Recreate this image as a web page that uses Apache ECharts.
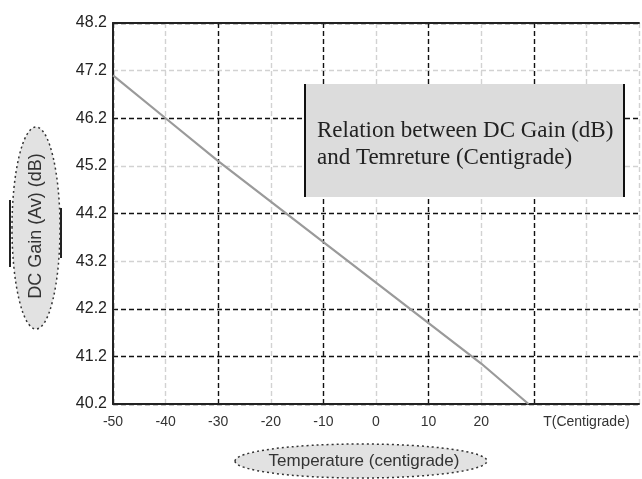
<!DOCTYPE html>
<html>
<head>
<meta charset="utf-8">
<script src="https://cdn.jsdelivr.net/npm/echarts@6/dist/echarts.min.js"></script>
<style>
html,body{margin:0;padding:0;background:#fff;}
#chart{width:642px;height:479px;}
</style>
</head>
<body>
<div id="chart"></div>
<script>
// Data
const temperature = [-50, -40, -30, -20, -10, 0, 10, 20, 29];
const gainDb = [47.1, 46.2, 45.3, 44.45, 43.6, 42.75, 41.9, 41.05, 40.2];
const xTickLabels = {'-50':'-50','-40':'-40','-30':'-30','-20':'-20','-10':'-10','0':'0','10':'10','20':'20','30':'','40':'T(Centigrade)','50':''};
const yTickLabels = ['40.2','41.2','42.2','43.2','44.2','45.2','46.2','47.2','48.2'];
const annotationLines = ['Relation between DC Gain (dB)', 'and Temreture (Centigrade)'];
const yAxisTitle = 'DC Gain (Av) (dB)';
const xAxisTitle = 'Temperature (centigrade)';

const DARK = '#111';
const LIGHT = '#d2d2d2';

const chart = echarts.init(document.getElementById('chart'), null, {renderer: 'canvas'});
chart.setOption({
  backgroundColor: '#fff',
  animation: false,
  grid: {left: 113, right: 1, top: 23, bottom: 75, containLabel: false},
  xAxis: [{
    type: 'value', min: -50, max: 50, interval: 10,
    axisLine: {show: true, onZero: false, lineStyle: {color: '#222', width: 2}},
    axisTick: {show: false},
    axisLabel: {
      margin: 11, color: '#333', fontFamily: 'Liberation Sans', fontSize: 14,
      formatter: v => xTickLabels[String(Math.round(v))] ?? ''
    },
    splitLine: {show: true, lineStyle: {
      color: [DARK, LIGHT, DARK, LIGHT, DARK, LIGHT, DARK, LIGHT, DARK, LIGHT, LIGHT],
      type: [5, 3], width: 1.4
    }}
  }, {
    type: 'value', position: 'top', min: -50, max: 50,
    axisLine: {show: true, onZero: false, lineStyle: {color: '#222', width: 2}},
    axisTick: {show: false}, axisLabel: {show: false}, splitLine: {show: false}
  }],
  yAxis: {
    type: 'value', min: 40.2, max: 48.2, interval: 1,
    axisLine: {show: true, onZero: false, lineStyle: {color: '#222', width: 2}},
    axisTick: {show: false},
    axisLabel: {
      margin: 6, color: '#222', fontFamily: 'Liberation Sans', fontSize: 16,
      formatter: v => { const s = v.toFixed(1); return yTickLabels.includes(s) ? s : ''; }
    },
    splitLine: {show: true, lineStyle: {
      color: [DARK, DARK, DARK, LIGHT, DARK, LIGHT, DARK, LIGHT, DARK],
      type: [5, 3], width: 1.4
    }}
  },
  series: [{
    type: 'line',
    data: temperature.map((t, i) => [t, gainDb[i]]),
    showSymbol: false,
    lineStyle: {color: '#9a9a9a', width: 2.2},
    z: 5
  }],
  graphic: [
    {type: 'rect', left: 305, top: 84, shape: {width: 319, height: 113},
     style: {fill: '#dcdcdc', stroke: null}, z: 10},
    {type: 'line', shape: {x1: 305, y1: 84, x2: 305, y2: 197}, style: {stroke: '#111', lineWidth: 2}, z: 11},
    {type: 'line', shape: {x1: 624, y1: 84, x2: 624, y2: 197}, style: {stroke: '#111', lineWidth: 2}, z: 11},
    {type: 'text', left: 317, top: 117, z: 12,
     style: {text: annotationLines.join('\n'), fill: '#222', font: '23px "Liberation Serif"', lineHeight: 27}},
    {type: 'ellipse', shape: {cx: 36, cy: 228, rx: 24, ry: 101},
     style: {fill: '#e2e2e2', stroke: '#333', lineWidth: 1.5, lineDash: [2, 3]}, z: 10},
    {type: 'line', shape: {x1: 10, y1: 200, x2: 10, y2: 267}, style: {stroke: '#222', lineWidth: 2}, z: 11},
    {type: 'line', shape: {x1: 61, y1: 208, x2: 61, y2: 258}, style: {stroke: '#222', lineWidth: 2}, z: 11},
    {type: 'text', x: 36, y: 226, rotation: Math.PI / 2, z: 12,
     style: {text: yAxisTitle, fill: '#333', font: '18px "Liberation Sans"', align: 'center', verticalAlign: 'middle'}},
    {type: 'ellipse', shape: {cx: 361, cy: 461, rx: 126, ry: 17},
     style: {fill: '#e2e2e2', stroke: '#333', lineWidth: 1.5, lineDash: [2, 3]}, z: 10},
    {type: 'text', x: 364, y: 461, z: 12,
     style: {text: xAxisTitle, fill: '#333', font: '17px "Liberation Sans"', align: 'center', verticalAlign: 'middle'}}
  ]
});
</script>
</body>
</html>
